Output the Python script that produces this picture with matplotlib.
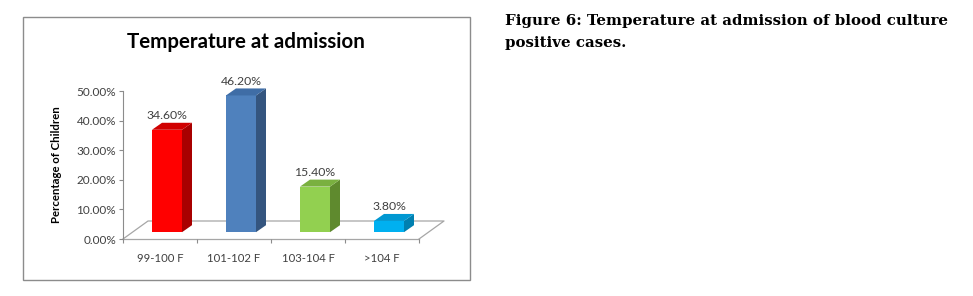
import matplotlib
matplotlib.use("Agg")
import matplotlib.pyplot as plt
from matplotlib.patches import Polygon, Rectangle

categories = ["99-100 F", "101-102 F", "103-104 F", ">104 F"]
values = [34.6, 46.2, 15.4, 3.8]
value_labels = ["34.60%", "46.20%", "15.40%", "3.80%"]
yticks = [0, 10, 20, 30, 40, 50]
ytick_labels = ["0.00%", "10.00%", "20.00%", "30.00%", "40.00%", "50.00%"]
title = "Temperature at admission"
ylabel = "Percentage of Children"
caption = "Figure 6: Temperature at admission of blood culture\npositive cases."

front_colors = ["#FF0000", "#4F81BD", "#92D050", "#00B0F0"]
side_colors = ["#A80000", "#34557F", "#5F8A2E", "#0080B0"]
top_colors = ["#D00000", "#3F6DA6", "#7AB040", "#0098D2"]

W, H = 973, 296
fig = plt.figure(figsize=(W / 100, H / 100), dpi=100)

# pixel scales
px_per_x = 74.0
px_per_y = 2.96
ax_left_px, ax_bottom_px = 123, 239
xlim = (-0.5, 3.9)
ylim = (0, 56)
ax = fig.add_axes([ax_left_px / W, (H - ax_bottom_px) / H,
                   (xlim[1] - xlim[0]) * px_per_x / W, (ylim[1] - ylim[0]) * px_per_y / H])
ax.set_xlim(*xlim)
ax.set_ylim(*ylim)
ax.patch.set_alpha(0)

# floor
fdx, fdy = 25 / px_per_x, 18 / px_per_y
floor_col = "#A6A6A6"
ax.plot([-0.5, -0.5 + fdx, 3.5 + fdx, 3.5], [0, fdy, fdy, 0], color=floor_col, lw=0.9, clip_on=False, zorder=1)
ax.plot([-0.5, 3.5], [0, 0], color=floor_col, lw=0.9, clip_on=False, zorder=1)

# bars
bx, by = 7 / px_per_x, 2.3
bw = 30 / px_per_x
sdx, sdy = 10 / px_per_x, 7 / px_per_y
xs = range(len(categories))
ax.bar([x + bx for x in xs], values, width=bw, bottom=by, color=front_colors, align="center", zorder=3, linewidth=0)
for i, v in enumerate(values):
    l = i + bx - bw / 2
    r = i + bx + bw / 2
    t = by + v
    ax.add_patch(Polygon([[r, by], [r + sdx, by + sdy], [r + sdx, t + sdy], [r, t]], closed=True,
                         facecolor=side_colors[i], edgecolor="none", zorder=3))
    ax.add_patch(Polygon([[l, t], [l + sdx, t + sdy], [r + sdx, t + sdy], [r, t]], closed=True,
                         facecolor=top_colors[i], edgecolor="none", zorder=3, clip_on=False))
    ax.annotate(value_labels[i], (i + bx, t + sdy), xytext=(0, 5), textcoords="offset points",
                ha="center", va="center", fontsize=8.8, color="#404040", family="Lato", annotation_clip=False)

# axes styling
for s in ["top", "right", "bottom"]:
    ax.spines[s].set_visible(False)
ax.spines["left"].set_bounds(0, 50)
ax.spines["left"].set_color("#8C8C8C")
ax.set_yticks(yticks)
ax.set_yticklabels(ytick_labels, fontsize=8.5, color="#404040", family="Lato")
ax.tick_params(axis="y", length=3, color="#8C8C8C", pad=2)
ax.set_xticks([i - 0.5 for i in range(len(categories) + 1)], minor=False)
ax.set_xticklabels([""] * (len(categories) + 1))
ax.tick_params(axis="x", length=3, color="#8C8C8C", direction="out")
for i, c in enumerate(categories):
    ax.text(i, -6.5, c, ha="center", va="center", fontsize=8.2, color="#404040", family="Lato", clip_on=False)
ax.text(-0.5 - 66 / px_per_x, 25, ylabel, rotation=90, ha="center", va="center",
        fontsize=8.2, fontweight="bold", color="#000000", family="Lato")

# frame box
fig.add_artist(Rectangle((23 / W, 1 - 280 / H), (470 - 23) / W, (280 - 17) / H, transform=fig.transFigure,
                         facecolor="none", edgecolor="#8C8C8C", lw=1.0))
fig.text(246 / W, 1 - 42 / H, title, ha="center", va="center", fontsize=14.8, fontweight="bold",
         family="Lato", color="#000000")

fig.text(505 / W, 1 - 14 / H, caption, ha="left", va="top", fontsize=10.8, fontweight="bold",
         family="DejaVu Serif", color="#000000", linespacing=1.75)

fig.savefig("out.png", dpi=100)
